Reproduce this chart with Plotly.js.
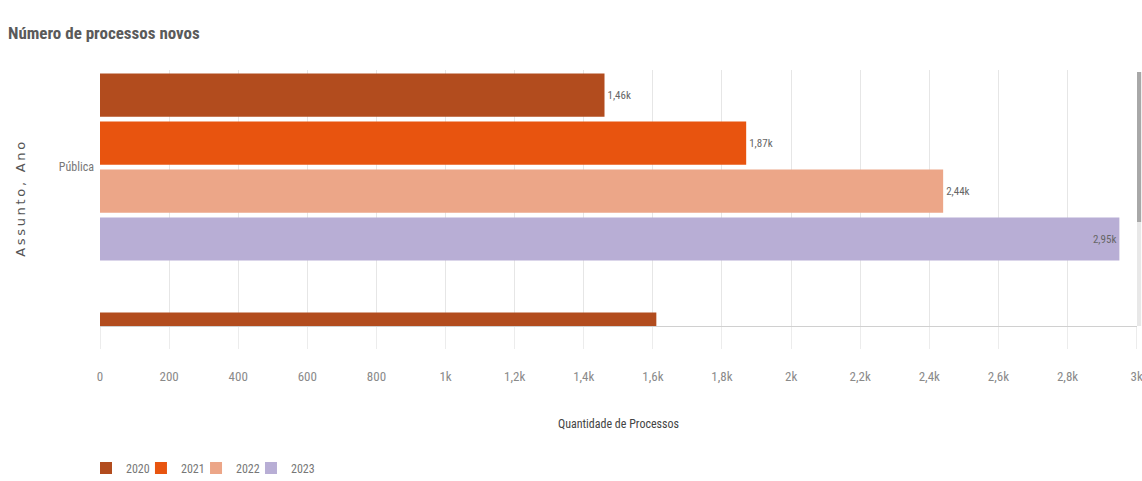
<!DOCTYPE html>
<html><head><meta charset="utf-8">
<script src="https://cdn.plot.ly/plotly-3.0.1.min.js"></script>
<style>html,body{margin:0;padding:0;background:#fff}#chart{width:1142px;height:481px}</style>
</head><body><div id="chart"></div>
<script>
const categories = ["Pública", "Outro assunto"];
const years = ["2020", "2021", "2022", "2023"];
const v2020 = [1460, 1610];
const v2021 = [1870, null];
const v2022 = [2440, null];
const v2023 = [2950, null];
const colors = ["#B24C1E", "#E8540F", "#ECA688", "#B8AED5"];
const xTicks = [0,200,400,600,800,1000,1200,1400,1600,1800,2000,2200,2400,2600,2800,3000];

const COND = "'Roboto Condensed', 'Noto Sans Condensed', 'Liberation Sans Narrow', 'Noto Sans', Roboto, sans-serif";
const series = [v2020, v2021, v2022, v2023];
const legendIds = ["legend", "legend2", "legend3", "legend4"];
const legendX = [-0.0135, 0.0395, 0.0926, 0.1456];
const lblFont = {family: COND, stretch: "condensed", size: 11, color: "#666"};
const traces = series.map((vals, i) => ({
  type: "bar", orientation: "h", name: years[i], legend: legendIds[i],
  y: categories, x: vals,
  marker: {color: colors[i], line: {width: 0}},
  texttemplate: "%{x:.3~s}",
  textposition: i === 3 ? "inside" : "outside",
  insidetextanchor: "end",
  textfont: lblFont, insidetextfont: lblFont, outsidetextfont: lblFont,
  cliponaxis: true,
  hoverinfo: "x+name"
}));

const layout = {
  width: 1142, height: 481,
  margin: {l: 100, r: 5, t: 70, b: 155, autoexpand: false},
  paper_bgcolor: "#fff", plot_bgcolor: "#fff",
  separators: ",.",
  barmode: "group", bargap: 0.197, bargroupgap: 0.1,
  title: {text: "<b>Número de processos novos</b>", x: 0.007, xanchor: "left", y: 0.932, yanchor: "middle",
    font: {family: COND, stretch: "condensed", size: 17, color: "#5a5a5a"}},
  xaxis: {
    range: [0, 3001], tickvals: xTicks, tickformat: "~s",
    showgrid: true, gridcolor: "#e6e6e6", zeroline: false,
    showline: true, linecolor: "#d0d0d0", linewidth: 1,
    ticks: "outside", ticklen: 22, tickcolor: "#ececec", ticklabelstandoff: 16,
    ticklabeloverflow: "allow", automargin: false,
    tickfont: {family: COND, stretch: "condensed", size: 13, color: "#8a8a8a"},
    title: {text: "Quantidade de Processos", standoff: 37, font: {family: COND, stretch: "condensed", size: 12, color: "#444"}},
    fixedrange: true
  },
  yaxis: {
    type: "category", range: [0.665, -0.406], showgrid: false, zeroline: false,
    showline: false, ticks: "", ticklabelstandoff: 5, automargin: false,
    tickfont: {family: COND, stretch: "condensed", size: 12, color: "#777"},
    title: {text: "<span style=\"letter-spacing:2.7px\">Assunto, Ano</span>", standoff: 30,
      font: {family: "'DejaVu Sans', sans-serif", size: 13, color: "#555"}},
    fixedrange: true
  },
  showlegend: true,
  shapes: [
    {type: "rect", xref: "paper", yref: "paper", x0: 1.0, x1: 1.004, y0: 0, y1: 0.992, fillcolor: "#e8e8e8", line: {width: 0}},
    {type: "rect", xref: "paper", yref: "paper", x0: 1.0, x1: 1.004, y0: 0.406, y1: 0.992, fillcolor: "#a8a8a8", line: {width: 0}}
  ]
};
legendIds.forEach((id, i) => {
  layout[id] = {orientation: "h", x: legendX[i], xanchor: "left", y: -0.555, yanchor: "middle",
    font: {family: COND, stretch: "condensed", size: 12, color: "#777"},
    itemwidth: 30, bgcolor: "rgba(0,0,0,0)"};
});
Plotly.newPlot("chart", traces, layout, {displayModeBar: false, staticPlot: true});
</script></body></html>
